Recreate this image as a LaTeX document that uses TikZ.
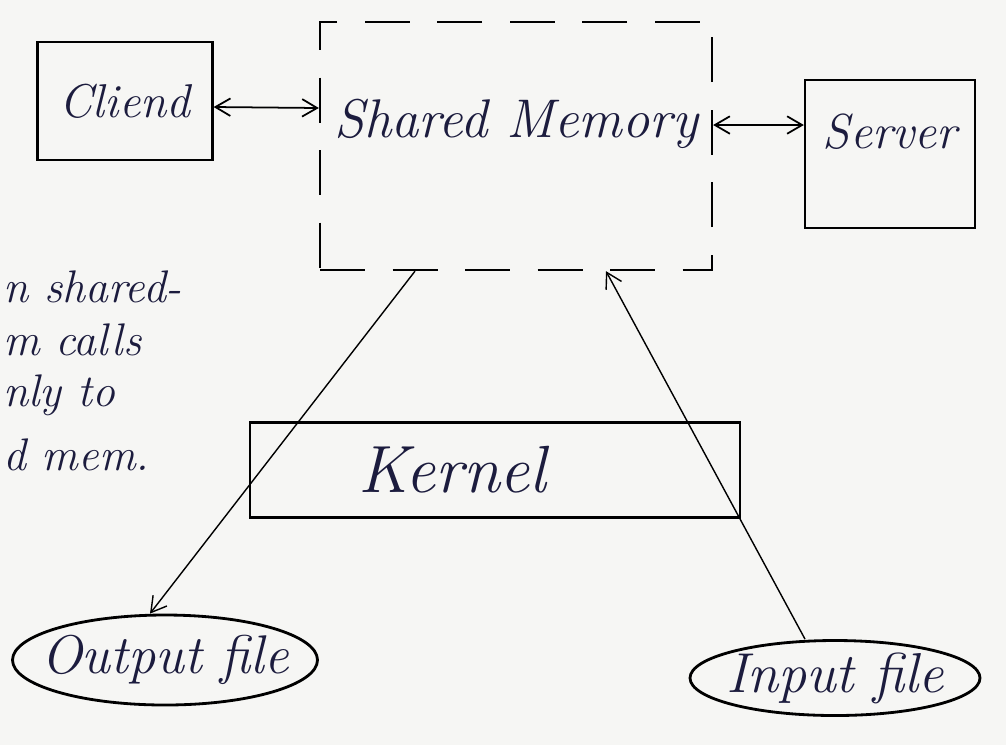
\documentclass[tikz,border=0pt]{standalone}
\usepackage{amsmath,amssymb}
\usetikzlibrary{positioning,arrows.meta,shapes.geometric}

\definecolor{ink}{RGB}{28,28,62}
\definecolor{paper}{RGB}{246,246,244}

\tikzset{
  hand/.style={font=\itshape, text=ink},
  box/.style={draw, line width=1.3pt, hand},
  dashbox/.style={draw, line width=1.3pt, dash pattern=on 0.9cm off 0.55cm, hand},
  filebox/.style={draw, ellipse, line width=1.6pt, hand, inner xsep=-0.4cm, inner ysep=0pt},
  link/.style={line width=1pt, <->},
  flow/.style={line width=0.8pt, ->}
}

\begin{document}
\begin{tikzpicture}[x=0.2mm, y=-0.2mm, >={Straight Barb[length=3mm,width=3.5mm]}]

  % Page
  \fill[paper] (0,0) rectangle (1006,745);
  \useasboundingbox (0,0) rectangle (1006,745);

  % Boxes
  \node[box, minimum width=3.5cm, minimum height=2.36cm,
        font=\fontsize{27}{30}\selectfont\itshape] (cli) at (125,101) {Cliend};
  \node[dashbox, minimum width=7.84cm, minimum height=4.96cm, text depth=1.1cm,
        font=\fontsize{31}{36}\selectfont\itshape] (shm) at (516,146) {Shared Memory};
  \node[box, minimum width=3.4cm, minimum height=2.96cm, text depth=0.9cm,
        font=\fontsize{28}{32}\selectfont\itshape] (srv) at (890,154) {Server};
  \node[box, minimum width=9.8cm, minimum height=1.9cm, inner xsep=0pt,
        font=\fontsize{38}{42}\selectfont\itshape] (ker) at (495,470) {Kernel\kern1.7cm};

  % Files
  \node[filebox, minimum width=6.1cm, minimum height=1.8cm,
        font=\fontsize{31}{36}\selectfont\itshape] (out) at (165,660) {Output file};
  \node[filebox, minimum width=5.8cm, minimum height=1.5cm,
        font=\fontsize{32}{36}\selectfont\itshape] (inp) at (835,678) {Input file};

  % Two-way links
  \draw[link] ([yshift=-0.12cm]cli.east) -- ([yshift=0.76cm]shm.west);
  \draw[link] ([yshift=0.42cm]shm.east) -- ([yshift=0.58cm]srv.west);

  % Read and write through the kernel
  \draw[flow] ([xshift=-2.02cm]shm.south) -- ([xshift=-0.3cm]out.north);
  \draw[flow] ([xshift=-0.6cm]inp.north) -- ([xshift=1.8cm]shm.south);

  % Side note
  \node[hand, anchor=west, inner sep=1pt, font=\fontsize{26}{30}\selectfont\itshape] (n1) at (1,287) {n shared-};
  \node[hand, anchor=west, inner sep=1pt, font=\fontsize{26}{30}\selectfont\itshape] (n2) at (1,340) {m calls};
  \node[hand, anchor=west, inner sep=1pt, font=\fontsize{26}{30}\selectfont\itshape] (n3) at (1,395) {nly to};
  \node[hand, anchor=west, inner sep=1pt, font=\fontsize{26}{30}\selectfont\itshape] (n4) at (1,455) {d mem.};

\end{tikzpicture}
\end{document}
